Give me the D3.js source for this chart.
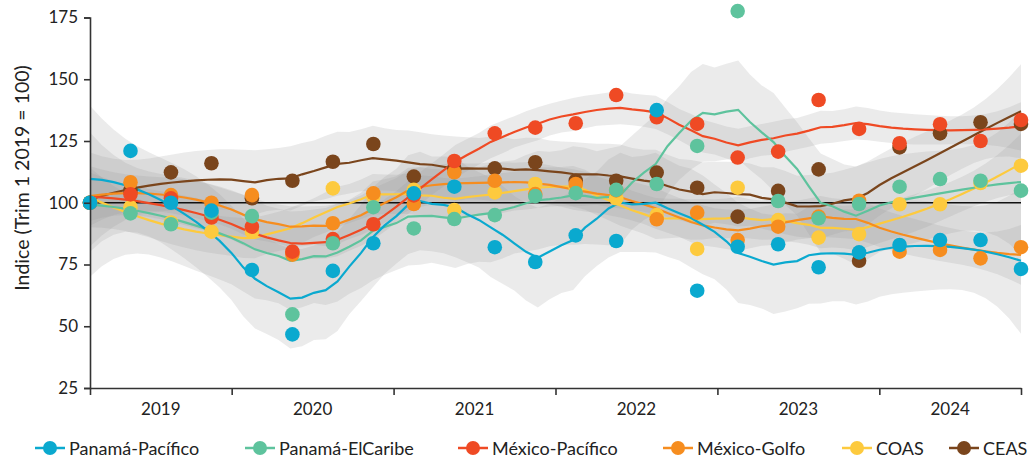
<!DOCTYPE html>
<html lang="es">
<head>
<meta charset="utf-8">
<script src="https://cdn.jsdelivr.net/npm/d3@7"></script>
<style>
  html, body { margin: 0; padding: 0; background: #fff; }
  svg { display: block; font-family: Lato, "Liberation Sans", sans-serif; }
</style>
</head>
<body>
<svg id="chart" width="1034" height="458"></svg>
<script>
// Quarterly index, Trim 1 2019 = 100
const quarters = ["2019-T1","2019-T2","2019-T3","2019-T4","2020-T1","2020-T2","2020-T3","2020-T4",
  "2021-T1","2021-T2","2021-T3","2021-T4","2022-T1","2022-T2","2022-T3","2022-T4",
  "2023-T1","2023-T2","2023-T3","2023-T4","2024-T1","2024-T2","2024-T3","2024-T4"];
const years = ["2019","2020","2021","2022","2023","2024"];
const yTicks = [25, 50, 75, 100, 125, 150, 175];

const panamaPacifico = [100,121,100,96.8,72.8,46.7,72.4,83.6,103.8,106.5,82,76,86.8,84.5,137.5,64.4,82.2,83.2,73.9,79.9,82.9,84.9,84.9,73.2];
const panamaElCaribe = [100,95.7,91.3,96,94.6,54.8,83.6,98.2,89.6,93.4,95,102.7,103.9,105.2,107.6,123,177.6,100.7,93.7,99.5,106.5,109.6,108.9,104.9];
const mexicoPacifico = [100,103.4,101.8,94,90.3,80.2,85.3,91.3,103,116.9,128.1,130.4,132.2,143.6,134.6,131.9,118.3,120.7,141.6,129.9,124.1,131.8,125,133.5];
const mexicoGolfo    = [100,108.3,103.1,100,103.1,79,91.7,103.8,99.5,112.3,108.9,103.5,107.6,105,93.3,96,84.9,90.3,94.4,100.8,80.2,80.9,77.5,82];
const coas           = [100,98.2,92,88.3,88.3,80,105.8,102.5,105.2,97,104.2,107.6,106,101.8,95,81.3,106.1,93,85.9,87.3,99.4,99.4,108,115];
const ceas           = [100,105,112.3,116,101.8,108.9,116.6,123.8,110.6,114,113.9,116.4,108.9,108.9,112.2,106.1,94.4,104.8,113.5,76.5,122.4,128.1,132.6,131.9];

const seriesNames  = ["Panamá-Pacífico","Panamá-ElCaribe","México-Pacífico","México-Golfo","COAS","CEAS"];
const seriesValues = [panamaPacifico, panamaElCaribe, mexicoPacifico, mexicoGolfo, coas, ceas];
const seriesColors = ["#0aa9cf","#5ec39d","#ef4a24","#f68d1f","#fdca3e","#7a451c"];

const series = seriesNames.map((name, k) => ({ name, values: seriesValues[k], color: seriesColors[k] }));

// ---- local quadratic regression (loess) with standard-error band ----
const SPAN = 0.4;
function loessWeightsRow(xs, x0, q) {
  const dists = xs.map(x => Math.abs(x - x0));
  const sorted = dists.slice().sort((a, b) => a - b);
  const h = sorted[q - 1];
  const w = dists.map(d => { const u = d / h; return u < 1 ? Math.pow(1 - u * u * u, 3) : 0; });
  // solve (X'WX) b = X'W y via 3x3 inverse; return operator row l (fit = l . y)
  const M = [[0,0,0],[0,0,0],[0,0,0]];
  xs.forEach((x, i) => {
    const t = x - x0, basis = [1, t, t * t];
    for (let a = 0; a < 3; a++) for (let b = 0; b < 3; b++) M[a][b] += w[i] * basis[a] * basis[b];
  });
  const inv = invert3(M);
  return xs.map((x, i) => {
    const t = x - x0;
    return w[i] * (inv[0][0] + inv[0][1] * t + inv[0][2] * t * t);
  });
}
function invert3(m) {
  const [a, b, c] = m[0], [d, e, f] = m[1], [g, h, i] = m[2];
  const A = e * i - f * h, B = -(d * i - f * g), C = d * h - e * g;
  const det = a * A + b * B + c * C;
  return [
    [A / det, -(b * i - c * h) / det, (b * f - c * e) / det],
    [B / det, (a * i - c * g) / det, -(a * f - c * d) / det],
    [C / det, -(a * h - b * g) / det, (a * e - b * d) / det]
  ];
}
function smooth(values) {
  const n = values.length, xs = d3.range(n), q = Math.floor(n * SPAN);
  const L = xs.map(x0 => loessWeightsRow(xs, x0, q));
  const fitted = L.map(row => d3.sum(row, (l, i) => l * values[i]));
  const rss = d3.sum(values, (v, i) => (v - fitted[i]) ** 2);
  // R = (I - L)^T (I - L)
  const IL = L.map((row, r) => row.map((v, c) => (r === c ? 1 : 0) - v));
  const R = xs.map((_, r) => xs.map((_, c) => d3.sum(IL, row => row[r] * row[c])));
  const delta1 = d3.sum(xs, r => R[r][r]);
  const delta2 = d3.sum(xs, r => d3.sum(xs, c => R[r][c] * R[c][r]));
  const sigma = Math.sqrt(rss / delta1);
  const df = delta1 * delta1 / delta2;
  const z = 1.959964;
  const tq = z + (z ** 3 + z) / (4 * df) + (5 * z ** 5 + 16 * z ** 3 + 3 * z) / (96 * df * df);
  const grid = d3.range(80).map(k => k * (n - 1) / 79);
  return grid.map(x0 => {
    const row = loessWeightsRow(xs, x0, q);
    const fit = d3.sum(row, (l, i) => l * values[i]);
    const se = sigma * Math.sqrt(d3.sum(row, l => l * l));
    return { x: x0, fit, lo: fit - tq * se, hi: fit + tq * se };
  });
}

// ---- layout ----
const svg = d3.select("#chart");
const x = d3.scaleLinear().domain([0, quarters.length - 1]).range([90, 1021]);
const y = d3.scaleLinear().domain([25, 175]).range([388, 17.5]);

const fits = series.map(s => ({ ...s, curve: smooth(s.values) }));

// confidence bands
const area = d3.area().x(d => x(d.x)).y0(d => y(d.lo)).y1(d => y(d.hi));
svg.append("g").selectAll("path").data(fits).join("path")
  .attr("d", d => area(d.curve))
  .attr("fill", "#999999").attr("fill-opacity", 0.2);

// reference line at 100
svg.append("line")
  .attr("x1", x(0)).attr("x2", x(quarters.length - 1))
  .attr("y1", y(100)).attr("y2", y(100))
  .attr("stroke", "#111").attr("stroke-width", 1.3);

// smoothed trend lines
const line = d3.line().x(d => x(d.x)).y(d => y(d.fit));
const drawOrder = fits.slice().reverse();
svg.append("g").selectAll("path").data(drawOrder).join("path")
  .attr("d", d => line(d.curve))
  .attr("fill", "none").attr("stroke", d => d.color).attr("stroke-width", 2.2);

// observed points
drawOrder.forEach(s => {
  svg.append("g").selectAll("circle").data(s.values).join("circle")
    .attr("cx", (v, i) => x(i)).attr("cy", v => y(v)).attr("r", 7.3)
    .attr("fill", s.color);
});

// axes
const axisColor = "#333";
const yAxis = svg.append("g").attr("transform", `translate(${x(0)},0)`)
  .call(d3.axisLeft(y).tickValues(yTicks).tickSize(6).tickPadding(6));
const boundaries = [0].concat(d3.range(1, years.length).map(k => k * 4 - 0.5), [quarters.length - 1]);
const xAxis = svg.append("g").attr("transform", `translate(0,${y(25)})`)
  .call(d3.axisBottom(x).tickValues(boundaries).tickFormat("").tickSize(7).tickSizeOuter(0));
[yAxis, xAxis].forEach(g => {
  g.select(".domain").attr("stroke", axisColor).attr("stroke-width", 1.6);
  g.selectAll(".tick line").attr("stroke", axisColor).attr("stroke-width", 1.6);
  g.selectAll("text").attr("fill", "#222").style("font-size", "17px").style("font-family", "Lato, sans-serif");
});

// year labels centred between boundaries
svg.append("g").selectAll("text").data(years).join("text")
  .attr("x", (d, k) => (x(boundaries[k]) + x(boundaries[k + 1])) / 2)
  .attr("y", 415)
  .attr("text-anchor", "middle").attr("fill", "#222")
  .style("font-size", "17px")
  .text(d => d);

// y axis title
svg.append("text")
  .attr("transform", `translate(29,178) rotate(-90)`)
  .attr("text-anchor", "middle").attr("fill", "#222")
  .style("font-size", "19.5px")
  .text("Indice (Trim 1 2019 = 100)");

// legend
const legendX = [50, 260, 473, 678, 857, 964];
const legend = svg.append("g").selectAll("g").data(series).join("g")
  .attr("transform", (d, k) => `translate(${legendX[k]},448)`);
legend.append("line").attr("x1", -15).attr("x2", 15)
  .attr("stroke", d => d.color).attr("stroke-width", 2.5);
legend.append("circle").attr("r", 7).attr("fill", d => d.color);
legend.append("text").attr("x", 19).attr("y", 6.5)
  .attr("fill", "#222").style("font-size", "18px")
  .text(d => d.name);
</script>
</body>
</html>
